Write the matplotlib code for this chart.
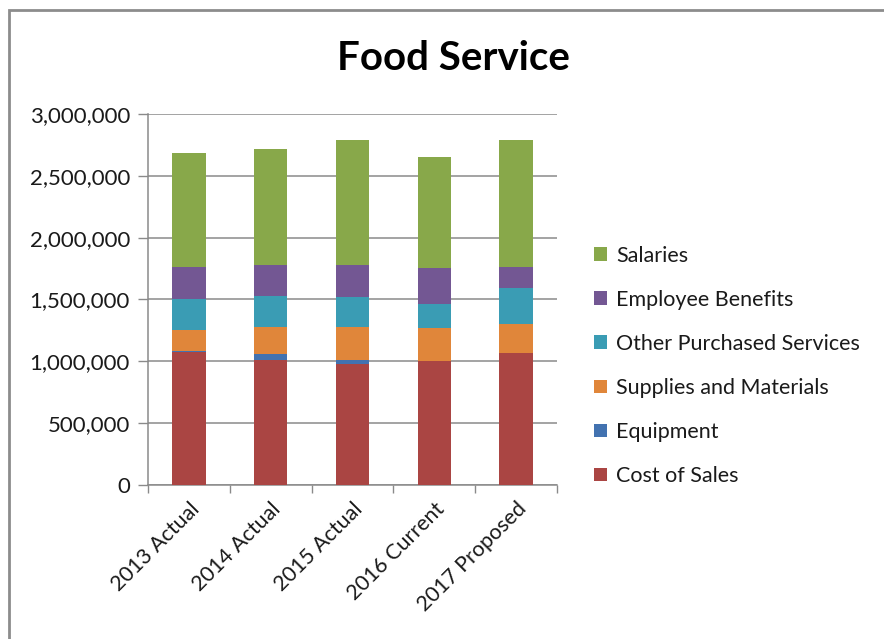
import matplotlib
matplotlib.use("Agg")
import matplotlib.pyplot as plt
from matplotlib.patches import Rectangle, Patch
from matplotlib.ticker import FuncFormatter, FixedLocator
import numpy as np

categories = ["2013 Actual", "2014 Actual", "2015 Actual", "2016 Current", "2017 Proposed"]
cost_of_sales = [1075000, 1008000, 978000, 1000000, 1064000]
equipment = [5000, 48000, 32000, 0, 0]
supplies = [175000, 218000, 269000, 269000, 237000]
other_services = [245000, 255000, 242000, 196000, 296000]
benefits = [261000, 248000, 256000, 293000, 164000]
salaries = [927000, 943000, 1011000, 895000, 1027000]

series_names = ["Cost of Sales", "Equipment", "Supplies and Materials",
                "Other Purchased Services", "Employee Benefits", "Salaries"]
series_values = [cost_of_sales, equipment, supplies, other_services, benefits, salaries]
colors = ["#AA4543", "#4272B0", "#E0863A", "#3A9CB4", "#735793", "#88A84A"]

plt.rcParams['font.family'] = ['Lato', 'DejaVu Sans']

fig = plt.figure(figsize=(8.84, 6.39), dpi=100)
ax = fig.add_axes([148/884, 1-485/639, (557-148)/884, (485-114)/639])

x = np.arange(len(categories))
bottom = np.zeros(len(categories))
for name, vals, c in zip(series_names, series_values, colors):
    ax.bar(x, vals, width=0.41, bottom=bottom, color=c, label=name, zorder=3)
    bottom += np.array(vals)

ax.set_xlim(-0.5, 4.5)
ax.set_ylim(0, 3000000)
ax.set_yticks(np.arange(0, 3000001, 500000))
ax.yaxis.set_major_formatter(FuncFormatter(lambda v, p: f"{int(v):,}"))
ax.grid(axis='y', color='#8a8a8a', linewidth=1.1, zorder=0)
ax.tick_params(axis='y', length=7, width=1, color='#8a8a8a', labelsize=16,
               labelcolor='#1a1a1a', pad=6)

# x ticks at boundaries, labels at centers
ax.xaxis.set_major_locator(FixedLocator(np.arange(-0.5, 5.0, 1.0)))
ax.xaxis.set_minor_locator(FixedLocator(x))
ax.set_xticklabels([])
ax.set_xticklabels(categories, minor=True, rotation=45, ha='right',
                   rotation_mode='anchor', fontsize=15.5, color='#1a1a1a')
ax.tick_params(axis='x', which='major', length=6, width=1, color='#8a8a8a')
ax.tick_params(axis='x', which='minor', length=0, pad=10)

for s in ['top', 'right']:
    ax.spines[s].set_visible(False)
for s in ['left', 'bottom']:
    ax.spines[s].set_color('#8a8a8a')
    ax.spines[s].set_linewidth(1.1)

fig.suptitle("Food Service", x=(338+568)/2/884, y=1-58/639, va='center',
             fontsize=29, fontweight='bold', color='#000000')

handles = [Patch(facecolor=c, label=n) for n, c in zip(series_names, colors)][::-1]
fig.legend(handles=handles, loc='upper left', bbox_to_anchor=(585/884, 1-237/639),
           frameon=False, fontsize=15.5, labelspacing=1.12, handlelength=0.6,
           handleheight=0.6, handletextpad=0.45, labelcolor='#1a1a1a',
           borderaxespad=0)

# outer chart border (only top and left edges visible)
fig.patches.append(Rectangle((9/884, -0.1), 1.2, 1-10/639+0.1, transform=fig.transFigure,
                             fill=False, edgecolor='#8c8c8c', linewidth=2.0))

fig.savefig("out.png", dpi=100)
